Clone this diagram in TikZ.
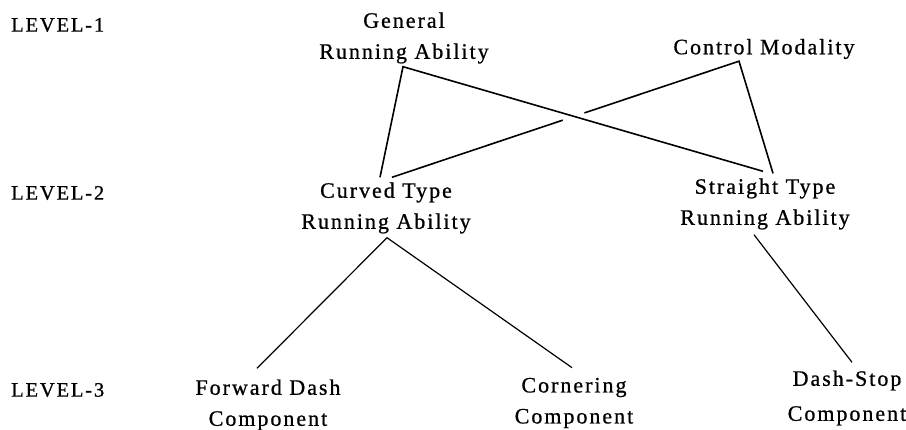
\documentclass[tikz,border=0pt]{standalone}
\usepackage{fontspec}
\setmainfont{Liberation Serif}[LetterSpace=9,FakeBold=0.8]
\usetikzlibrary{calc,intersections}
\tikzset{
  lbl/.style={inner sep=0pt, anchor=west, font=\fontsize{20.5}{24}\selectfont},
  item/.style={inner sep=0pt, align=center, font=\fontsize{22}{31}\selectfont},
  upper/.style={line width=1.6pt},
  lower/.style={line width=1.2pt}
}
\begin{document}
\begin{tikzpicture}[x=1pt,y=-1pt]
\useasboundingbox (0,0) rectangle (906,430);
% level labels
\node[lbl] (l1) at (11,25) {LEVEL-1};
\node[lbl] (l2) at (11,193) {LEVEL-2};
\node[lbl] (l3) at (11,390) {LEVEL-3};
% level 1
\node[item] (gen) at (404,38) {General\\Running Ability};
\node[item] (ctrl) at (764,49) {Control Modality};
% level 2
\node[item] (curved) at (386,208) {Curved Type\\Running Ability};
\node[item] (straight) at (765,204) {Straight Type\\Running Ability};
% level 3
\node[item] (fwd) at (268,405) {Forward Dash\\Component};
\node[item] (corn) at (574,403) {Cornering\\Component};
\node[item, font=\fontsize{22}{35}\selectfont] (dstop) at (847,398) {Dash-Stop\\Component};
% connector points
\coordinate (A) at ($(gen.south)+(-1,3)$);
\coordinate (C) at ($(ctrl.south)+(-25,2)$);
\coordinate (CL) at ($(curved.north)+(-6,-5)$);
\coordinate (CR) at ($(curved.north)+(6,-5)$);
\coordinate (SL) at ($(straight.north)+(-2,-7)$);
\coordinate (SR) at ($(straight.north)+(8,-5)$);
\coordinate (B) at ($(curved.south)+(1,4)$);
\coordinate (SB) at ($(straight.south)+(-11,5)$);
\coordinate (FT) at ($(fwd.north)+(-11,-11)$);
\coordinate (KT) at ($(corn.north)+(-2,-10)$);
\coordinate (DT) at ($(dstop.north)+(5,-8)$);
% crossing
\path[name path=gl] (A) -- (SL);
\path[name path=cl] (C) -- (CR);
\path[name intersections={of=gl and cl, by=X}];
% upper connectors
\draw[upper] (CL) -- (A) -- (SL);
\draw[upper] (SR) -- (C) -- ($(X)!11pt!(C)$);
\draw[upper] ($(X)!12pt!(CR)$) -- (CR);
% lower connectors
\draw[lower] (FT) -- (B) -- (KT);
\draw[lower] (SB) -- (DT);
\end{tikzpicture}
\end{document}
